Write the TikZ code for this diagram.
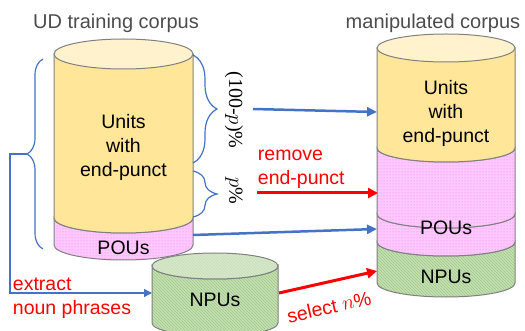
\documentclass[tikz,border=0pt]{standalone}
\usepackage{fontspec}
\setmainfont{Liberation Sans}
\newfontfamily\pctfont{Liberation Serif}
\usetikzlibrary{arrows.meta,patterns,decorations.pathreplacing}

\definecolor{canedge}{RGB}{128,128,128}
\definecolor{unitfill}{RGB}{255,230,153}
\definecolor{unittop}{RGB}{255,242,204}
\definecolor{poufill}{RGB}{255,200,255}
\definecolor{poudots}{RGB}{240,120,240}
\definecolor{npufill}{RGB}{197,224,180}
\definecolor{npuhatch}{RGB}{160,200,135}
\definecolor{officeblue}{RGB}{68,114,196}

\tikzset{
  canline/.style={draw=canedge, line width=1pt},
  unitband/.style={canline, fill=unitfill},
  pouband/.style={canline, preaction={fill=poufill}, pattern=dots, pattern color=poudots},
  npuband/.style={canline, preaction={fill=npufill}, pattern=north west lines, pattern color=npuhatch},
  cantext/.style={inner sep=0.75pt, align=center, font=\fontsize{19.5}{24}\selectfont},
  titletext/.style={inner sep=0.75pt, text=black!70, font=\fontsize{20}{24}\selectfont},
  redtext/.style={inner sep=0.75pt, align=left, text=red, font=\fontsize{19.5}{24}\selectfont},
  pcttext/.style={inner sep=0.75pt, font=\pctfont\fontsize{20}{24}\selectfont},
  bluearrow/.style={draw=officeblue, line width=2.5pt, -{Triangle[length=10pt,width=9pt]}},
  redarrow/.style={draw=red, line width=3pt, -{Triangle[length=10pt,width=10pt]}},
  bracebar/.style={draw=officeblue, line width=1.2pt, decorate},
  extractline/.style={draw=officeblue, line width=1.3pt, -{Triangle[length=8pt,width=8pt]}}
}

\begin{document}
\begin{tikzpicture}[x=1pt,y=1pt,yscale=-1,xscale=1]
\useasboundingbox (0,0) rectangle (525,331);

%Shape: Can [NPUs]
\draw[npuband] (152,266) -- (152,323) arc (180:0:63 and 13) -- (278,266) arc (0:180:63 and 13) -- cycle ;
\draw[canline, preaction={fill=npufill!70!white}, pattern=north west lines, pattern color=npuhatch!60] (215,266) ellipse (63 and 13) ;

%Shape: Can [UD training corpus]
\draw[pouband] (54,218) -- (54,245) arc (180:0:69.5 and 15) -- (193,218) arc (0:180:69.5 and 15) -- cycle ;
\draw[unitband] (54,54) -- (54,218) arc (180:0:69.5 and 15) -- (193,54) -- cycle ;
\draw[canline, fill=unittop] (123.5,54) ellipse (69.5 and 15) ;

%Shape: Can [manipulated corpus]
\draw[npuband] (377,242) -- (377,283) arc (180:0:69 and 14) -- (515,242) arc (0:180:69 and 14) -- cycle ;
\draw[pouband] (377,214) -- (377,242) arc (180:0:69 and 14) -- (515,214) arc (0:180:69 and 14) -- cycle ;
\draw[pouband] (377,148) -- (377,214) arc (180:0:69 and 14) -- (515,148) arc (0:180:69 and 14) -- cycle ;
\draw[unitband] (377,48) -- (377,148) arc (180:0:69 and 14) -- (515,48) -- cycle ;
\draw[canline, fill=unittop] (446,48) ellipse (69 and 14) ;

% Text Node
\draw (116,23) node (udTitle) [titletext] {UD training corpus};
% Text Node
\draw (433,23) node (mcTitle) [titletext] {manipulated corpus};
% Text Node
\draw (123.5,147) node (udUnits) [cantext] {Units\\with\\end-punct};
% Text Node
\draw (123.5,248) node (udPous) [cantext] {POUs};
% Text Node
\draw (446,113) node (mcUnits) [cantext] {Units\\with\\end-punct};
% Text Node
\draw (446,228) node (mcPous) [cantext] {POUs};
% Text Node
\draw (446,277) node (mcNpus) [cantext] {NPUs};
% Text Node
\draw (215,300) node (npus) [cantext] {NPUs};

%Curly Braces
\draw[bracebar, decoration={brace, amplitude=16pt}] (43,249) -- (43,59) ;
\draw[bracebar, decoration={brace, amplitude=24pt}] (193,55) -- (193,163) ;
\draw[bracebar, decoration={brace, amplitude=24pt}] (193,171) -- (193,217) ;
\coordinate (udBraceTip) at (27,154);

% Text Node
\draw (234,110) node (pctKeep) [pcttext, rotate=-90] {(100-$p$)\%};
% Text Node
\draw (234,191) node (pctCut) [pcttext, rotate=-90] {$p$\%};
% Text Node
\draw (257,169) node (removeTxt) [redtext, anchor=west] {remove\\end-punct};
% Text Node
\draw (12,298) node (extractTxt) [redtext, anchor=west] {extract\\noun phrases};
% Text Node
\draw (329,307) node (selectTxt) [redtext, rotate=13] {select $n$\%};

%Arrow ends
\coordinate (keepOut) at (253,109);
\coordinate (cutOut) at (257,193);
\coordinate (udPouOut) at (193,235);
\coordinate (npuOut) at (279,293);
\coordinate (npuIn) at (152,293);
\coordinate (mcUnitsIn) at (377,112);
\coordinate (mcCutIn) at (378,193);
\coordinate (mcPouIn) at (377,229);
\coordinate (mcNpuIn) at (377,271);

%Straight Lines
\draw[bluearrow] (keepOut) -- (mcUnitsIn) ;
\draw[redarrow] (cutOut) -- (mcCutIn) ;
\draw[bluearrow] (udPouOut) -- (mcPouIn) ;
\draw[redarrow] (npuOut) -- (mcNpuIn) ;
\draw[extractline] (udBraceTip) -- ++(-17,0) |- (npuIn) ;

\end{tikzpicture}
\end{document}
